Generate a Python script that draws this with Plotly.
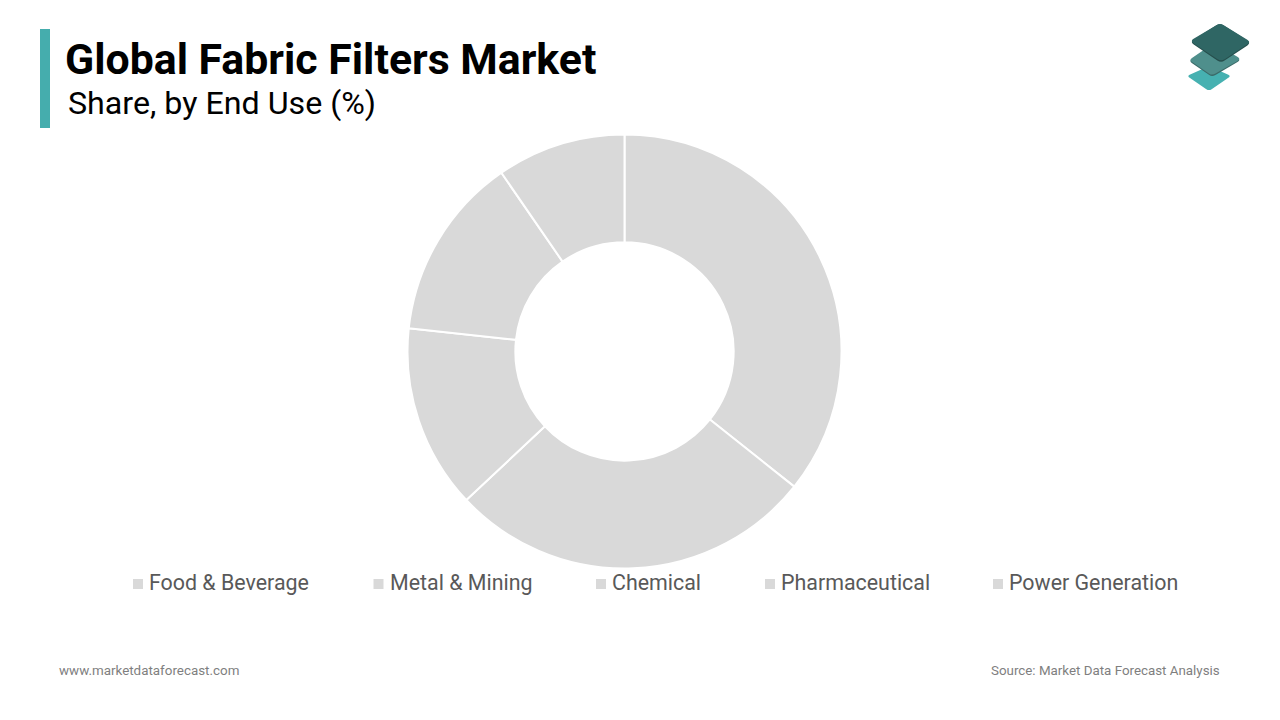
import plotly.graph_objects as go

categories = ["Food & Beverage", "Metal & Mining", "Chemical", "Pharmaceutical", "Power Generation"]
shares = [35.7, 27.3, 13.7, 13.7, 9.6]
legend_swatch_left = [133, 373.5, 596, 765, 993]

W, H = 1280, 720
GREY = "#d9d9d9"


def px(x):
    return x / W


def py(y):
    return 1 - y / H


def pt(x, y):
    return f"{px(x):.5f},{py(y):.5f}"


def rounded(points, r=0.12):
    n = len(points)
    out = []
    for i in range(n):
        p0, p1, p2 = points[i - 1], points[i], points[(i + 1) % n]
        a = (p1[0] + (p0[0] - p1[0]) * r, p1[1] + (p0[1] - p1[1]) * r)
        b = (p1[0] + (p2[0] - p1[0]) * r, p1[1] + (p2[1] - p1[1]) * r)
        out.append(("M " if i == 0 else "L ") + pt(*a) + " Q " + pt(*p1) + " " + pt(*b))
    return " ".join(out) + " Z"


fig = go.Figure(
    go.Pie(
        labels=categories,
        values=shares,
        hole=0.503,
        sort=False,
        direction="clockwise",
        rotation=0,
        textinfo="none",
        showlegend=False,
        marker=dict(colors=[GREY] * len(categories), line=dict(color="white", width=2)),
        domain=dict(x=[px(407.5), px(841.5)], y=[py(568.5), py(134.5)]),
    )
)


def diamond(points, color):
    return dict(type="path", xref="paper", yref="paper", path=rounded(points),
                fillcolor=color, line_width=0)


shapes = [
    dict(type="rect", xref="paper", yref="paper", x0=px(40), x1=px(50), y0=py(128), y1=py(29),
         fillcolor="#45adad", line_width=0, layer="above"),
    diamond([(1209, 66), (1231, 76), (1209, 91), (1187, 76)], "#46b1b1"),
    diamond([(1214, 44), (1241, 60), (1212, 77), (1189, 61)], "#3b6b69"),
    diamond([(1214, 43), (1241, 59), (1212, 75.5), (1189, 60)], "#4f8f8c"),
    diamond([(1220, 23), (1251, 43), (1221, 63), (1190, 42)], "#264f4d"),
    diamond([(1220, 23), (1251, 42), (1221, 61.5), (1190, 41)], "#2f6664"),
]

annotations = [
    dict(text="<b>Global Fabric Filters Market</b>", x=px(63), y=py(58.5), xanchor="left", yanchor="middle",
         font=dict(family="Roboto", size=42.8, color="#000000")),
    dict(text="Share, by End Use (%)", x=px(65.5), y=py(103), xanchor="left", yanchor="middle",
         font=dict(family="Roboto", size=32.2, color="#000000")),
    dict(text="www.marketdataforecast.com", x=px(57), y=py(670), xanchor="left", yanchor="middle",
         font=dict(family="Roboto", size=13.4, color="#7f7f7f")),
    dict(text="Source: Market Data Forecast Analysis", x=px(1222), y=py(670), xanchor="right", yanchor="middle",
         font=dict(family="Roboto", size=13.35, color="#7f7f7f")),
]

for name, left in zip(categories, legend_swatch_left):
    shapes.append(dict(type="rect", xref="paper", yref="paper", x0=px(left), x1=px(left + 10),
                       y0=py(589), y1=py(579), fillcolor=GREY, line_width=0))
    annotations.append(dict(text=name, x=px(left + 14), y=py(582), xanchor="left", yanchor="middle",
                            font=dict(family="Roboto", size=21.4, color="#595959")))

for a in annotations:
    a.update(xref="paper", yref="paper", showarrow=False)

fig.update_layout(
    width=W,
    height=H,
    margin=dict(l=0, r=0, t=0, b=0),
    paper_bgcolor="white",
    plot_bgcolor="white",
    shapes=shapes,
    annotations=annotations,
)

fig.write_html("out.html", config={"displayModeBar": False}, post_script="document.body.style.margin='0';")
